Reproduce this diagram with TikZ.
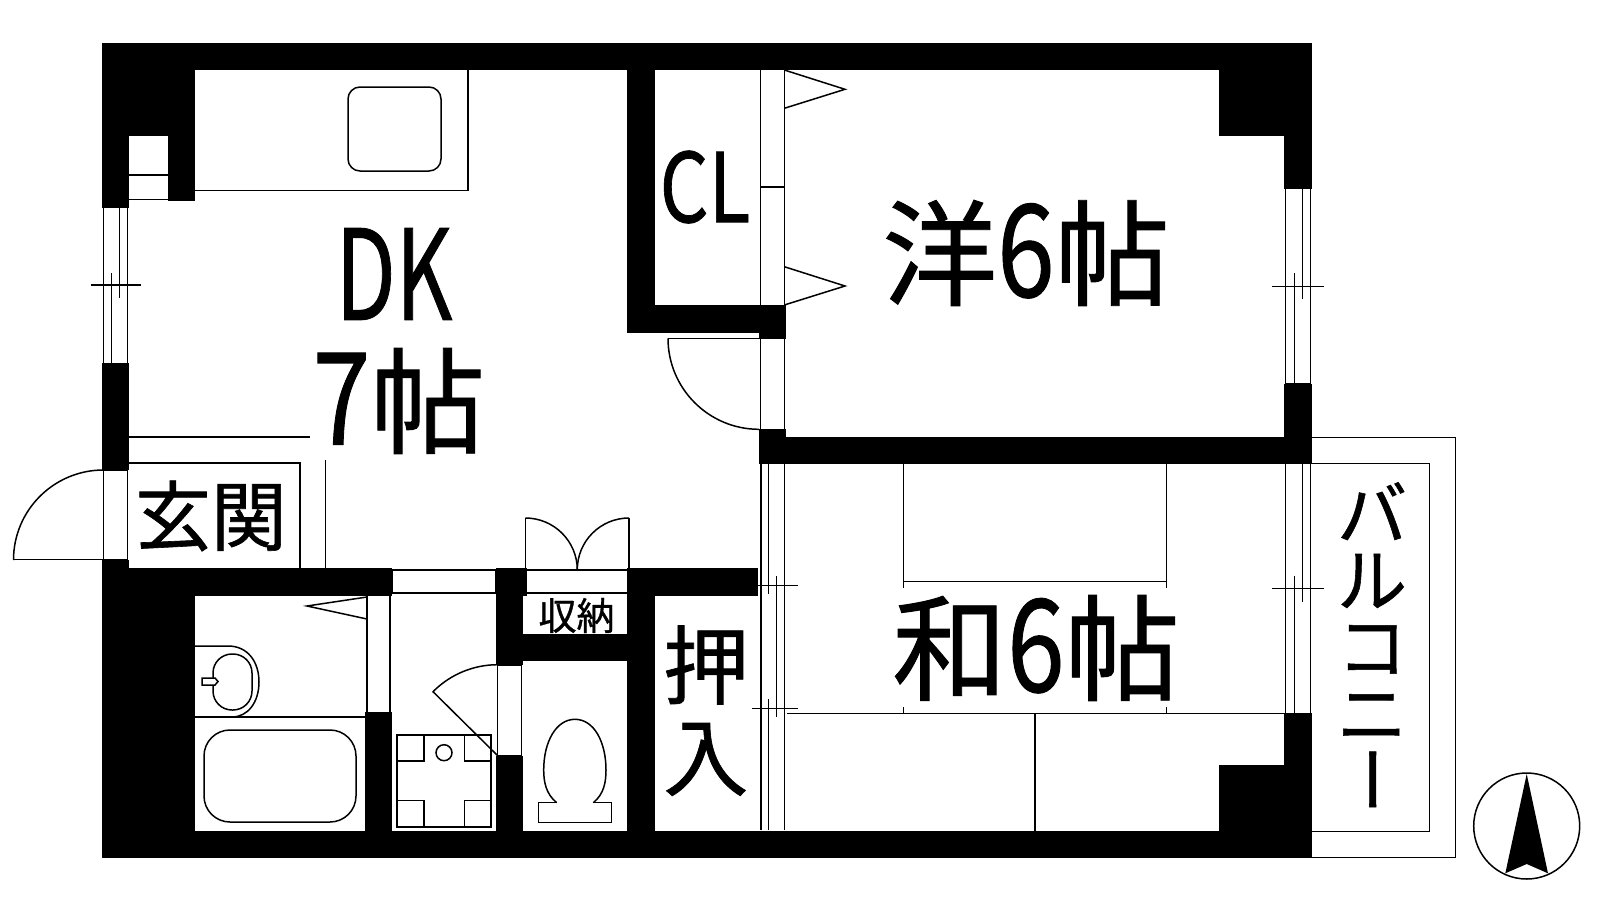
\documentclass[tikz,border=0pt]{standalone}
\usepackage{fontspec}
\usepackage{graphicx}
\setmainfont{Noto Sans CJK JP}[FakeBold=0.8]
\newcommand{\fsz}[1]{\fontsize{#1}{#1}\selectfont}
\newcommand{\dg}[1]{\scalebox{0.9}[1.12]{#1}}
\tikzset{
  wall/.style={fill=black,draw=none},
  ln/.style={line width=1.5pt,draw=black},
  lnw/.style={line width=1.5pt,draw=black,fill=white},
  lbl/.style={inner sep=0pt,outer sep=0pt,text=black,anchor=center},
}
\begin{document}
\begin{tikzpicture}[x=1pt,y=-1pt]
\useasboundingbox (0,0) rectangle (1600,900);
% balcony
\draw[ln] (1300,437.3) -- (1455.7,437.3) -- (1455.7,857.7) -- (1298,857.7);
\draw[ln] (1305,463.3) -- (1429.7,463.3) -- (1429.7,831.7) -- (1305,831.7);
% walls
\fill[wall] (102,43) rectangle (1312,70);
\fill[wall] (102,831) rectangle (1312,858);
\fill[wall] (102,43) rectangle (195,136);
\fill[wall] (102,136) rectangle (129,208);
\fill[wall] (168,136) rectangle (195,201);
\fill[wall] (102,362.7) rectangle (129,470);
\fill[wall] (102,560) rectangle (129,858);
\fill[wall] (102,568) rectangle (195,858);
\fill[wall] (102,568) rectangle (392,596);
\fill[wall] (365,712) rectangle (392,858);
\fill[wall] (496,568) rectangle (527,596);
\fill[wall] (496,568) rectangle (523,665);
\fill[wall] (496,634) rectangle (627,661);
\fill[wall] (496,755.7) rectangle (523,858);
\fill[wall] (627,568) rectangle (758,596);
\fill[wall] (627,568) rectangle (655,858);
\fill[wall] (627,70) rectangle (655,332.7);
\fill[wall] (627,305) rectangle (759,332.7);
\fill[wall] (759,305) rectangle (785.7,339.3);
\fill[wall] (759.3,429.3) rectangle (785.7,464);
\fill[wall] (759.3,436.7) rectangle (1312,464);
\fill[wall] (1219,43) rectangle (1312,136);
\fill[wall] (1284,136) rectangle (1312,188.7);
\fill[wall] (1284,383.7) rectangle (1312,464);
\fill[wall] (1284,712.7) rectangle (1312,858);
\fill[wall] (1219,765) rectangle (1312,858);
% small duct
\draw[ln] (129,175) -- (168,175) (129,199.5) -- (168,199.5);
% kitchen counter
\draw[ln] (468,70) -- (468,190.7) -- (195,190.7);
\draw[ln,rounded corners=12pt] (348,87) rectangle (441,171);
% left window
\draw[ln] (103.5,208) -- (103.5,362.7) (127.5,208) -- (127.5,362.7);
\draw[ln] (119.5,208) -- (119.5,298) (111.5,273) -- (111.5,362.7);
\draw[ln] (90.5,285) -- (140.5,285);
% entrance
\draw[ln] (129,437) -- (310,437);
\draw[ln] (129,463) -- (300,463) -- (300,568);
\draw[ln] (325.5,460) -- (325.5,568);
\draw[ln] (103.5,470) -- (127.5,470) -- (127.5,559.5) -- (13,559.5);
\draw[ln] (103.5,470) -- (103.5,559.5);
\draw[ln] (103.5,470) arc[start angle=-90,end angle=-180,radius=90];
% bath room
\draw[ln] (367,596) -- (367,712) (390,596) -- (390,712);
\draw[ln] (367,597) -- (307,606) -- (367,619);
\draw[ln] (195,646) -- (228,646) .. controls (248,646) and (259,662) .. (259,682) .. controls (259,702) and (248,717) .. (232,717);
\draw[ln] (195,717) -- (365,717);
\draw[ln,rounded corners=19pt] (213,654) rectangle (252,710);
\draw[lnw] (202,678) -- (215,678) -- (218,681.5) -- (215,685) -- (202,685) -- cycle;
\draw[ln,rounded corners=26pt] (204,730) rectangle (356,822);
% gap over washroom
\draw[ln] (392,570) -- (495.5,570) -- (495.5,593) -- (392,593) -- cycle;
% washing machine
\draw[ln] (397,735) rectangle (491,827);
\draw[ln] (397,761) -- (424,761) -- (424,735) (491,761) -- (464.6,761) -- (464.6,735);
\draw[ln] (397,800.7) -- (424,800.7) -- (424,827) (491,800.7) -- (464.6,800.7) -- (464.6,827);
\draw[ln] (444,752.7) circle[radius=8];
% washroom door
\draw[ln] (497.7,665) rectangle (521.5,755.7);
\draw[ln] (497.7,755.7) -- (432.6,691.3);
\draw[ln] (497.7,664.7) arc[start angle=-90,end angle=-135,radius=91];
% storage doors
\draw[ln] (527,570) -- (627,570) (527,593) -- (627,593);
\draw[ln] (525.3,570) -- (525.3,518) (629,570) -- (629,518);
\draw[ln] (525.3,518) arc[start angle=-90,end angle=0,radius=52];
\draw[ln] (629,518) arc[start angle=-90,end angle=-180,radius=51.7];
% toilet
\draw[ln] (556.7,802.7) .. controls (546,794) and (543.7,782) .. (543.7,770) .. controls (543.7,742) and (556,719.3) .. (575,719.3) .. controls (594,719.3) and (606,742) .. (606,770) .. controls (606,782) and (604,794) .. (593.3,802.7);
\draw[ln] (556.7,802.7) -- (538.7,802.7) -- (538.7,822.3) -- (611.3,822.3) -- (611.3,802.7) -- (593.3,802.7);
% closet doors (CL)
\draw[ln] (760.7,70) -- (760.7,305) (784.3,70) -- (784.3,305);
\draw[ln] (760.7,187) -- (784.3,187);
\draw[ln] (784.3,70) -- (845,89.3) -- (784.3,108.3);
\draw[ln] (784.3,266.7) -- (845,286) -- (784.3,305);
% DK door
\draw[ln] (760.7,339) -- (760.7,429.3) (784.3,339) -- (784.3,429.3) (759,429.3) -- (785,429.3);
\draw[ln] (668,338.3) -- (759,338.3);
\draw[ln] (668,338.3) arc[start angle=180,end angle=90,radius=91];
% oshiire sliding doors
\draw[ln] (761,464) -- (761,830) (784.3,464) -- (784.3,830);
\draw[ln] (768.3,464) -- (768.3,594) (776.7,576) -- (776.7,717) (768.3,699.3) -- (768.3,830);
\draw[ln] (758,585.3) -- (797.7,585.3) (752,708.3) -- (797.7,708.3);
% tatami
\draw[ln] (787,713.3) -- (1284,713.3);
\draw[ln] (1035,713.3) -- (1035,831);
\draw[ln] (903.3,464) -- (903.3,588) (903.3,707) -- (903.3,713.3);
\draw[ln] (1166.7,464) -- (1166.7,588) (1166.7,707) -- (1166.7,713.3);
\draw[ln] (903.3,581.7) -- (1166.7,581.7);
% right windows
\draw[ln] (1285.7,188.7) -- (1285.7,383.7) (1310.3,188.7) -- (1310.3,383.7) (1285.7,383.7) -- (1310.3,383.7);
\draw[ln] (1302.3,188.7) -- (1302.3,299.3) (1294.3,273.3) -- (1294.3,383.7);
\draw[ln] (1272.3,286.3) -- (1323.7,286.3);
\draw[ln] (1285.7,464) -- (1285.7,712.7) (1310.3,464) -- (1310.3,712.7);
\draw[ln] (1302.3,464) -- (1302.3,601.7) (1294.3,575.7) -- (1294.3,712.7);
\draw[ln] (1272.3,588.3) -- (1323.7,588.3);
% compass
\draw[ln] (1526.7,826) circle[radius=53];
\fill[black] (1526.7,774) -- (1548,873.3) -- (1526.7,864) -- (1505.3,873.3) -- cycle;
% labels
\node[lbl] (dk) at (394,274) {\fsz{125}\scalebox{.70}[1]{DK}};
\node[lbl] (seven) at (399,401) {\fsz{115}\dg{7}帖};
\node[lbl] (you) at (1026,253) {\fsz{115}洋\dg{6}帖};
\node[lbl] (wa) at (1036,648) {\fsz{115}和\dg{6}帖};
\node[lbl] (cl) at (705,187) {\fsz{96}\scalebox{.80}[1]{CL}};
\node[lbl] (genkan) at (211,516) {\fsz{76}玄関};
\node[lbl] (shuno) at (576.5,615.5) {\fsz{38}収納};
\node[lbl] (oshi) at (706,665) {\fsz{86}押};
\node[lbl] (iri) at (705.8,759.5) {\fsz{85}入};
\node[lbl,align=center,font=\fontsize{70}{66.7}\selectfont] (balc) at (1372,673) {\smash{バ}\\\smash{ル}\\\smash{コ}\\\smash{ニ}\\\smash{\raisebox{62pt}{\rotatebox{-90}{ー}}\kern22pt}};
\end{tikzpicture}
\end{document}
